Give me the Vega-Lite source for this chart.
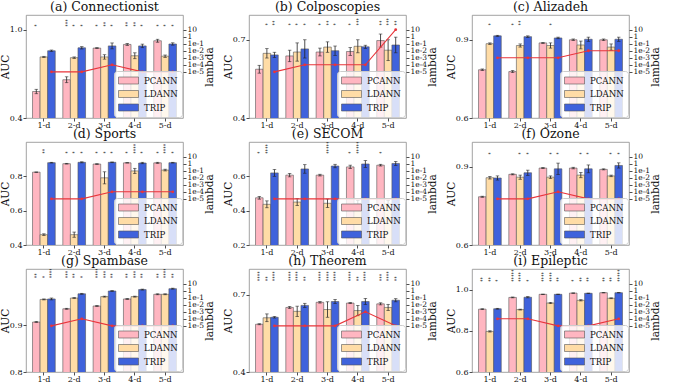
{
"$schema": "https://vega.github.io/schema/vega-lite/v6.json",
"padding": {"left": 0, "top": 0, "right": 0, "bottom": 0},
"columns": 3,
"spacing": {"row": -3, "column": 8},
"resolve": {"scale": {"color": "independent"}, "legend": {"color": "independent"}},
"datasets": {
"bars": [
{"p":"a","d":"1-d","m":"PCANN","v":0.58,"lo":0.565,"hi":0.595,"s":"*"},
{"p":"a","d":"1-d","m":"LDANN","v":0.815,"lo":0.811,"hi":0.819,"s":""},
{"p":"a","d":"1-d","m":"TRIP","v":0.857,"lo":0.852,"hi":0.862,"s":""},
{"p":"a","d":"2-d","m":"PCANN","v":0.66,"lo":0.64,"hi":0.68,"s":"***"},
{"p":"a","d":"2-d","m":"LDANN","v":0.81,"lo":0.805,"hi":0.815,"s":"*"},
{"p":"a","d":"2-d","m":"TRIP","v":0.877,"lo":0.869,"hi":0.885,"s":"*"},
{"p":"a","d":"3-d","m":"PCANN","v":0.875,"lo":0.872,"hi":0.878,"s":"*"},
{"p":"a","d":"3-d","m":"LDANN","v":0.815,"lo":0.8,"hi":0.83,"s":"**"},
{"p":"a","d":"3-d","m":"TRIP","v":0.89,"lo":0.87,"hi":0.91,"s":"*"},
{"p":"a","d":"4-d","m":"PCANN","v":0.9,"lo":0.893,"hi":0.907,"s":"**"},
{"p":"a","d":"4-d","m":"LDANN","v":0.823,"lo":0.803,"hi":0.843,"s":"**"},
{"p":"a","d":"4-d","m":"TRIP","v":0.89,"lo":0.878,"hi":0.902,"s":"*"},
{"p":"a","d":"5-d","m":"PCANN","v":0.925,"lo":0.915,"hi":0.935,"s":"*"},
{"p":"a","d":"5-d","m":"LDANN","v":0.82,"lo":0.812,"hi":0.828,"s":"*"},
{"p":"a","d":"5-d","m":"TRIP","v":0.903,"lo":0.895,"hi":0.911,"s":"*"},
{"p":"b","d":"1-d","m":"PCANN","v":0.587,"lo":0.572,"hi":0.602,"s":""},
{"p":"b","d":"1-d","m":"LDANN","v":0.648,"lo":0.63,"hi":0.666,"s":"*"},
{"p":"b","d":"1-d","m":"TRIP","v":0.642,"lo":0.632,"hi":0.652,"s":"**"},
{"p":"b","d":"2-d","m":"PCANN","v":0.638,"lo":0.616,"hi":0.66,"s":"*"},
{"p":"b","d":"2-d","m":"LDANN","v":0.653,"lo":0.618,"hi":0.688,"s":"*"},
{"p":"b","d":"2-d","m":"TRIP","v":0.665,"lo":0.63,"hi":0.7,"s":"*"},
{"p":"b","d":"3-d","m":"PCANN","v":0.653,"lo":0.638,"hi":0.668,"s":"*"},
{"p":"b","d":"3-d","m":"LDANN","v":0.672,"lo":0.652,"hi":0.692,"s":"**"},
{"p":"b","d":"3-d","m":"TRIP","v":0.658,"lo":0.64,"hi":0.676,"s":"*"},
{"p":"b","d":"4-d","m":"PCANN","v":0.655,"lo":0.64,"hi":0.67,"s":"*"},
{"p":"b","d":"4-d","m":"LDANN","v":0.675,"lo":0.65,"hi":0.7,"s":"***"},
{"p":"b","d":"4-d","m":"TRIP","v":0.673,"lo":0.667,"hi":0.679,"s":""},
{"p":"b","d":"5-d","m":"PCANN","v":0.697,"lo":0.672,"hi":0.722,"s":"**"},
{"p":"b","d":"5-d","m":"LDANN","v":0.66,"lo":0.62,"hi":0.7,"s":"***"},
{"p":"b","d":"5-d","m":"TRIP","v":0.68,"lo":0.65,"hi":0.71,"s":"**"},
{"p":"c","d":"1-d","m":"PCANN","v":0.785,"lo":0.782,"hi":0.788,"s":""},
{"p":"c","d":"1-d","m":"LDANN","v":0.885,"lo":0.882,"hi":0.888,"s":"*"},
{"p":"c","d":"1-d","m":"TRIP","v":0.915,"lo":0.913,"hi":0.917,"s":""},
{"p":"c","d":"2-d","m":"PCANN","v":0.778,"lo":0.774,"hi":0.782,"s":"*"},
{"p":"c","d":"2-d","m":"LDANN","v":0.878,"lo":0.872,"hi":0.884,"s":"**"},
{"p":"c","d":"2-d","m":"TRIP","v":0.912,"lo":0.909,"hi":0.915,"s":""},
{"p":"c","d":"3-d","m":"PCANN","v":0.888,"lo":0.886,"hi":0.89,"s":""},
{"p":"c","d":"3-d","m":"LDANN","v":0.878,"lo":0.868,"hi":0.888,"s":"*"},
{"p":"c","d":"3-d","m":"TRIP","v":0.907,"lo":0.904,"hi":0.91,"s":""},
{"p":"c","d":"4-d","m":"PCANN","v":0.9,"lo":0.897,"hi":0.903,"s":""},
{"p":"c","d":"4-d","m":"LDANN","v":0.88,"lo":0.865,"hi":0.895,"s":""},
{"p":"c","d":"4-d","m":"TRIP","v":0.902,"lo":0.894,"hi":0.91,"s":""},
{"p":"c","d":"5-d","m":"PCANN","v":0.9,"lo":0.897,"hi":0.903,"s":""},
{"p":"c","d":"5-d","m":"LDANN","v":0.872,"lo":0.86,"hi":0.884,"s":""},
{"p":"c","d":"5-d","m":"TRIP","v":0.902,"lo":0.894,"hi":0.91,"s":""},
{"p":"d","d":"1-d","m":"PCANN","v":0.823,"lo":0.822,"hi":0.824,"s":""},
{"p":"d","d":"1-d","m":"LDANN","v":0.46,"lo":0.455,"hi":0.465,"s":"**"},
{"p":"d","d":"1-d","m":"TRIP","v":0.878,"lo":0.876,"hi":0.88,"s":""},
{"p":"d","d":"2-d","m":"PCANN","v":0.872,"lo":0.87,"hi":0.874,"s":"*"},
{"p":"d","d":"2-d","m":"LDANN","v":0.46,"lo":0.445,"hi":0.475,"s":"*"},
{"p":"d","d":"2-d","m":"TRIP","v":0.88,"lo":0.877,"hi":0.883,"s":"*"},
{"p":"d","d":"3-d","m":"PCANN","v":0.87,"lo":0.868,"hi":0.872,"s":"*"},
{"p":"d","d":"3-d","m":"LDANN","v":0.79,"lo":0.755,"hi":0.825,"s":"*"},
{"p":"d","d":"3-d","m":"TRIP","v":0.88,"lo":0.878,"hi":0.882,"s":"*"},
{"p":"d","d":"4-d","m":"PCANN","v":0.877,"lo":0.876,"hi":0.878,"s":"*"},
{"p":"d","d":"4-d","m":"LDANN","v":0.83,"lo":0.815,"hi":0.845,"s":"****"},
{"p":"d","d":"4-d","m":"TRIP","v":0.876,"lo":0.872,"hi":0.88,"s":"*"},
{"p":"d","d":"5-d","m":"PCANN","v":0.877,"lo":0.874,"hi":0.88,"s":"*"},
{"p":"d","d":"5-d","m":"LDANN","v":0.835,"lo":0.83,"hi":0.84,"s":"****"},
{"p":"d","d":"5-d","m":"TRIP","v":0.878,"lo":0.876,"hi":0.88,"s":"*"},
{"p":"e","d":"1-d","m":"PCANN","v":0.475,"lo":0.467,"hi":0.483,"s":"*"},
{"p":"e","d":"1-d","m":"LDANN","v":0.437,"lo":0.417,"hi":0.457,"s":"****"},
{"p":"e","d":"1-d","m":"TRIP","v":0.62,"lo":0.6,"hi":0.64,"s":""},
{"p":"e","d":"2-d","m":"PCANN","v":0.607,"lo":0.597,"hi":0.617,"s":""},
{"p":"e","d":"2-d","m":"LDANN","v":0.45,"lo":0.43,"hi":0.47,"s":""},
{"p":"e","d":"2-d","m":"TRIP","v":0.643,"lo":0.618,"hi":0.668,"s":""},
{"p":"e","d":"3-d","m":"PCANN","v":0.607,"lo":0.602,"hi":0.612,"s":""},
{"p":"e","d":"3-d","m":"LDANN","v":0.443,"lo":0.418,"hi":0.468,"s":"*****"},
{"p":"e","d":"3-d","m":"TRIP","v":0.66,"lo":0.65,"hi":0.67,"s":""},
{"p":"e","d":"4-d","m":"PCANN","v":0.655,"lo":0.645,"hi":0.665,"s":"*"},
{"p":"e","d":"4-d","m":"LDANN","v":0.44,"lo":0.42,"hi":0.46,"s":"*****"},
{"p":"e","d":"4-d","m":"TRIP","v":0.672,"lo":0.652,"hi":0.692,"s":""},
{"p":"e","d":"5-d","m":"PCANN","v":0.665,"lo":0.66,"hi":0.67,"s":"*"},
{"p":"e","d":"5-d","m":"LDANN","v":0.44,"lo":0.42,"hi":0.46,"s":""},
{"p":"e","d":"5-d","m":"TRIP","v":0.675,"lo":0.663,"hi":0.687,"s":""},
{"p":"f","d":"1-d","m":"PCANN","v":0.785,"lo":0.783,"hi":0.787,"s":""},
{"p":"f","d":"1-d","m":"LDANN","v":0.858,"lo":0.853,"hi":0.863,"s":"*"},
{"p":"f","d":"1-d","m":"TRIP","v":0.857,"lo":0.849,"hi":0.865,"s":""},
{"p":"f","d":"2-d","m":"PCANN","v":0.871,"lo":0.869,"hi":0.873,"s":""},
{"p":"f","d":"2-d","m":"LDANN","v":0.86,"lo":0.852,"hi":0.868,"s":"*"},
{"p":"f","d":"2-d","m":"TRIP","v":0.877,"lo":0.867,"hi":0.887,"s":"*"},
{"p":"f","d":"3-d","m":"PCANN","v":0.895,"lo":0.893,"hi":0.897,"s":""},
{"p":"f","d":"3-d","m":"LDANN","v":0.86,"lo":0.855,"hi":0.865,"s":"*"},
{"p":"f","d":"3-d","m":"TRIP","v":0.892,"lo":0.87,"hi":0.914,"s":"*"},
{"p":"f","d":"4-d","m":"PCANN","v":0.895,"lo":0.892,"hi":0.898,"s":""},
{"p":"f","d":"4-d","m":"LDANN","v":0.868,"lo":0.858,"hi":0.878,"s":"*"},
{"p":"f","d":"4-d","m":"TRIP","v":0.892,"lo":0.877,"hi":0.907,"s":"*"},
{"p":"f","d":"5-d","m":"PCANN","v":0.89,"lo":0.888,"hi":0.892,"s":""},
{"p":"f","d":"5-d","m":"LDANN","v":0.865,"lo":0.862,"hi":0.868,"s":"*"},
{"p":"f","d":"5-d","m":"TRIP","v":0.905,"lo":0.895,"hi":0.915,"s":"*"},
{"p":"g","d":"1-d","m":"PCANN","v":0.9067,"lo":0.906,"hi":0.908,"s":"**"},
{"p":"g","d":"1-d","m":"LDANN","v":0.955,"lo":0.954,"hi":0.956,"s":"*"},
{"p":"g","d":"1-d","m":"TRIP","v":0.956,"lo":0.954,"hi":0.958,"s":"****"},
{"p":"g","d":"2-d","m":"PCANN","v":0.935,"lo":0.934,"hi":0.936,"s":"***"},
{"p":"g","d":"2-d","m":"LDANN","v":0.958,"lo":0.957,"hi":0.959,"s":"**"},
{"p":"g","d":"2-d","m":"TRIP","v":0.967,"lo":0.966,"hi":0.968,"s":"*"},
{"p":"g","d":"3-d","m":"PCANN","v":0.941,"lo":0.94,"hi":0.942,"s":"****"},
{"p":"g","d":"3-d","m":"LDANN","v":0.961,"lo":0.96,"hi":0.962,"s":"***"},
{"p":"g","d":"3-d","m":"TRIP","v":0.973,"lo":0.972,"hi":0.974,"s":"**"},
{"p":"g","d":"4-d","m":"PCANN","v":0.956,"lo":0.955,"hi":0.957,"s":"**"},
{"p":"g","d":"4-d","m":"LDANN","v":0.961,"lo":0.96,"hi":0.962,"s":"***"},
{"p":"g","d":"4-d","m":"TRIP","v":0.976,"lo":0.975,"hi":0.977,"s":"**"},
{"p":"g","d":"5-d","m":"PCANN","v":0.966,"lo":0.965,"hi":0.967,"s":"**"},
{"p":"g","d":"5-d","m":"LDANN","v":0.966,"lo":0.965,"hi":0.967,"s":"****"},
{"p":"g","d":"5-d","m":"TRIP","v":0.978,"lo":0.977,"hi":0.979,"s":"**"},
{"p":"h","d":"1-d","m":"PCANN","v":0.585,"lo":0.583,"hi":0.587,"s":"****"},
{"p":"h","d":"1-d","m":"LDANN","v":0.61,"lo":0.595,"hi":0.625,"s":"**"},
{"p":"h","d":"1-d","m":"TRIP","v":0.612,"lo":0.609,"hi":0.615,"s":"****"},
{"p":"h","d":"2-d","m":"PCANN","v":0.65,"lo":0.646,"hi":0.654,"s":"****"},
{"p":"h","d":"2-d","m":"LDANN","v":0.635,"lo":0.615,"hi":0.655,"s":"****"},
{"p":"h","d":"2-d","m":"TRIP","v":0.658,"lo":0.65,"hi":0.666,"s":"**"},
{"p":"h","d":"3-d","m":"PCANN","v":0.67,"lo":0.667,"hi":0.673,"s":"****"},
{"p":"h","d":"3-d","m":"LDANN","v":0.642,"lo":0.612,"hi":0.672,"s":"****"},
{"p":"h","d":"3-d","m":"TRIP","v":0.673,"lo":0.665,"hi":0.681,"s":"****"},
{"p":"h","d":"4-d","m":"PCANN","v":0.667,"lo":0.665,"hi":0.669,"s":"****"},
{"p":"h","d":"4-d","m":"LDANN","v":0.638,"lo":0.618,"hi":0.658,"s":"**"},
{"p":"h","d":"4-d","m":"TRIP","v":0.673,"lo":0.661,"hi":0.685,"s":"****"},
{"p":"h","d":"5-d","m":"PCANN","v":0.664,"lo":0.66,"hi":0.668,"s":"***"},
{"p":"h","d":"5-d","m":"LDANN","v":0.65,"lo":0.638,"hi":0.662,"s":"****"},
{"p":"h","d":"5-d","m":"TRIP","v":0.678,"lo":0.672,"hi":0.684,"s":"**"},
{"p":"i","d":"1-d","m":"PCANN","v":0.905,"lo":0.903,"hi":0.907,"s":"**"},
{"p":"i","d":"1-d","m":"LDANN","v":0.797,"lo":0.794,"hi":0.8,"s":"**"},
{"p":"i","d":"1-d","m":"TRIP","v":0.907,"lo":0.905,"hi":0.909,"s":"*"},
{"p":"i","d":"2-d","m":"PCANN","v":0.962,"lo":0.96,"hi":0.964,"s":"*****"},
{"p":"i","d":"2-d","m":"LDANN","v":0.903,"lo":0.901,"hi":0.905,"s":"****"},
{"p":"i","d":"2-d","m":"TRIP","v":0.963,"lo":0.96,"hi":0.966,"s":"*"},
{"p":"i","d":"3-d","m":"PCANN","v":0.977,"lo":0.976,"hi":0.978,"s":"****"},
{"p":"i","d":"3-d","m":"LDANN","v":0.935,"lo":0.932,"hi":0.938,"s":"****"},
{"p":"i","d":"3-d","m":"TRIP","v":0.977,"lo":0.976,"hi":0.978,"s":"**"},
{"p":"i","d":"4-d","m":"PCANN","v":0.983,"lo":0.982,"hi":0.984,"s":"*"},
{"p":"i","d":"4-d","m":"LDANN","v":0.948,"lo":0.945,"hi":0.951,"s":"**"},
{"p":"i","d":"4-d","m":"TRIP","v":0.982,"lo":0.981,"hi":0.983,"s":"**"},
{"p":"i","d":"5-d","m":"PCANN","v":0.985,"lo":0.984,"hi":0.986,"s":"**"},
{"p":"i","d":"5-d","m":"LDANN","v":0.958,"lo":0.956,"hi":0.96,"s":"**"},
{"p":"i","d":"5-d","m":"TRIP","v":0.985,"lo":0.984,"hi":0.986,"s":"*****"}
],
"lam": [
{"p":"a","d":"1-d","m":"TRIP","l":1e-5},{"p":"a","d":"2-d","m":"TRIP","l":1e-5},{"p":"a","d":"3-d","m":"TRIP","l":1e-4},{"p":"a","d":"4-d","m":"TRIP","l":1e-5},{"p":"a","d":"5-d","m":"TRIP","l":1e-5},
{"p":"b","d":"1-d","m":"TRIP","l":1e-5},{"p":"b","d":"2-d","m":"TRIP","l":1e-4},{"p":"b","d":"3-d","m":"TRIP","l":1e-4},{"p":"b","d":"4-d","m":"TRIP","l":1e-4},{"p":"b","d":"5-d","m":"TRIP","l":10},
{"p":"c","d":"1-d","m":"TRIP","l":1e-3},{"p":"c","d":"2-d","m":"TRIP","l":1e-3},{"p":"c","d":"3-d","m":"TRIP","l":1e-3},{"p":"c","d":"4-d","m":"TRIP","l":1e-2},{"p":"c","d":"5-d","m":"TRIP","l":1e-2},
{"p":"d","d":"1-d","m":"TRIP","l":1e-5},{"p":"d","d":"2-d","m":"TRIP","l":1e-5},{"p":"d","d":"3-d","m":"TRIP","l":1e-4},{"p":"d","d":"4-d","m":"TRIP","l":1e-4},{"p":"d","d":"5-d","m":"TRIP","l":1e-4},
{"p":"e","d":"1-d","m":"TRIP","l":1e-5},{"p":"e","d":"2-d","m":"TRIP","l":1e-5},{"p":"e","d":"3-d","m":"TRIP","l":1e-5},{"p":"e","d":"4-d","m":"TRIP","l":1e-5},{"p":"e","d":"5-d","m":"TRIP","l":1e-5},
{"p":"f","d":"1-d","m":"TRIP","l":1e-5},{"p":"f","d":"2-d","m":"TRIP","l":1e-5},{"p":"f","d":"3-d","m":"TRIP","l":1e-4},{"p":"f","d":"4-d","m":"TRIP","l":1e-5},{"p":"f","d":"5-d","m":"TRIP","l":1e-5},
{"p":"g","d":"1-d","m":"TRIP","l":1e-5},{"p":"g","d":"2-d","m":"TRIP","l":1e-4},{"p":"g","d":"3-d","m":"TRIP","l":1e-5},{"p":"g","d":"4-d","m":"TRIP","l":1e-5},{"p":"g","d":"5-d","m":"TRIP","l":1e-5},
{"p":"h","d":"1-d","m":"TRIP","l":1e-5},{"p":"h","d":"2-d","m":"TRIP","l":1e-5},{"p":"h","d":"3-d","m":"TRIP","l":1e-5},{"p":"h","d":"4-d","m":"TRIP","l":1e-3},{"p":"h","d":"5-d","m":"TRIP","l":1e-5},
{"p":"i","d":"1-d","m":"TRIP","l":1e-4},{"p":"i","d":"2-d","m":"TRIP","l":1e-4},{"p":"i","d":"3-d","m":"TRIP","l":1e-5},{"p":"i","d":"4-d","m":"TRIP","l":1e-5},{"p":"i","d":"5-d","m":"TRIP","l":1e-4}
]
},
"concat": [
{"title": "(a) Connectionist", "width": 157, "height": 103, "resolve": {"scale": {"y": "independent"}},
 "layer": [
  {"data": {"name": "bars"}, "transform": [{"filter": "datum.p == 'a'"}],
   "encoding": {"x": {"field": "d", "type": "nominal", "title": null, "scale": {"paddingInner": 0.25, "paddingOuter": 0.215}}, "xOffset": {"field": "m", "type": "nominal", "scale": {"domain": ["PCANN","LDANN","TRIP"]}}},
   "layer": [
    {"mark": {"type": "bar", "clip": true, "stroke": "#555", "strokeWidth": 0.6}, "encoding": {"y": {"field": "v", "type": "quantitative", "title": "AUC", "scale": {"domain": [0.4, 1.1], "nice": false, "zero": false}, "axis": {"values": [0.4,0.5,0.6,0.7,0.8,0.9,1.0], "format": ".1f"}}, "color": {"field": "m", "type": "nominal", "scale": {"domain": ["PCANN","LDANN","TRIP"], "range": ["#ffb6c1","#ffdca6","#3f62dc"]}, "legend": {"title": null}}}},
    {"mark": {"type": "rule", "color": "#222", "strokeWidth": 0.8}, "encoding": {"y": {"field": "lo", "type": "quantitative"}, "y2": {"field": "hi"}}},
    {"mark": {"type": "tick", "color": "#222", "size": 3.5, "thickness": 0.8}, "encoding": {"y": {"field": "lo", "type": "quantitative"}}},
    {"mark": {"type": "tick", "color": "#222", "size": 3.5, "thickness": 0.8}, "encoding": {"y": {"field": "hi", "type": "quantitative"}}},
    {"mark": {"type": "text", "clip": true, "angle": 270, "align": "left", "baseline": "middle", "fontSize": 5, "font": "DejaVu Sans", "color": "#222"}, "encoding": {"y": {"datum": 1.02}, "text": {"field": "s"}}}
   ]},
  {"data": {"name": "lam"}, "transform": [{"filter": "datum.p == 'a'"}],
   "mark": {"type": "line", "color": "#e8343a", "strokeWidth": 1.1, "point": {"filled": true, "size": 8, "color": "#e8343a"}},
   "encoding": {"x": {"field": "d", "type": "nominal", "title": null}, "xOffset": {"field": "m", "type": "nominal"}, "y": {"field": "l", "type": "quantitative", "title": "lambda", "scale": {"type": "log", "domain": [2.7e-12, 1230]}, "axis": {"orient": "right", "values": [10,1,0.1,0.01,0.001,0.0001,0.00001], "labelExpr": "datum.value >= 5 ? '10' : datum.value >= 0.5 ? '1' : '1e-' + round(-log(datum.value)/LN10)"}}}}
 ]},
{"title": "(b) Colposcopies", "width": 157, "height": 103, "resolve": {"scale": {"y": "independent"}},
 "layer": [
  {"data": {"name": "bars"}, "transform": [{"filter": "datum.p == 'b'"}],
   "encoding": {"x": {"field": "d", "type": "nominal", "title": null, "scale": {"paddingInner": 0.25, "paddingOuter": 0.215}}, "xOffset": {"field": "m", "type": "nominal", "scale": {"domain": ["PCANN","LDANN","TRIP"]}}},
   "layer": [
    {"mark": {"type": "bar", "clip": true, "stroke": "#555", "strokeWidth": 0.6}, "encoding": {"y": {"field": "v", "type": "quantitative", "title": "AUC", "scale": {"domain": [0.4, 0.795], "nice": false, "zero": false}, "axis": {"values": [0.4,0.5,0.6,0.7], "format": ".1f"}}, "color": {"field": "m", "type": "nominal", "scale": {"domain": ["PCANN","LDANN","TRIP"], "range": ["#ffb6c1","#ffdca6","#3f62dc"]}, "legend": {"title": null}}}},
    {"mark": {"type": "rule", "color": "#222", "strokeWidth": 0.8}, "encoding": {"y": {"field": "lo", "type": "quantitative"}, "y2": {"field": "hi"}}},
    {"mark": {"type": "tick", "color": "#222", "size": 3.5, "thickness": 0.8}, "encoding": {"y": {"field": "lo", "type": "quantitative"}}},
    {"mark": {"type": "tick", "color": "#222", "size": 3.5, "thickness": 0.8}, "encoding": {"y": {"field": "hi", "type": "quantitative"}}},
    {"mark": {"type": "text", "clip": true, "angle": 270, "align": "left", "baseline": "middle", "fontSize": 5, "font": "DejaVu Sans", "color": "#222"}, "encoding": {"y": {"datum": 0.755}, "text": {"field": "s"}}}
   ]},
  {"data": {"name": "lam"}, "transform": [{"filter": "datum.p == 'b'"}],
   "mark": {"type": "line", "color": "#e8343a", "strokeWidth": 1.1, "point": {"filled": true, "size": 8, "color": "#e8343a"}},
   "encoding": {"x": {"field": "d", "type": "nominal", "title": null}, "xOffset": {"field": "m", "type": "nominal"}, "y": {"field": "l", "type": "quantitative", "title": "lambda", "scale": {"type": "log", "domain": [2.7e-12, 1230]}, "axis": {"orient": "right", "values": [10,1,0.1,0.01,0.001,0.0001,0.00001], "labelExpr": "datum.value >= 5 ? '10' : datum.value >= 0.5 ? '1' : '1e-' + round(-log(datum.value)/LN10)"}}}}
 ]},
{"title": "(c) Alizadeh", "width": 157, "height": 103, "resolve": {"scale": {"y": "independent"}},
 "layer": [
  {"data": {"name": "bars"}, "transform": [{"filter": "datum.p == 'c'"}],
   "encoding": {"x": {"field": "d", "type": "nominal", "title": null, "scale": {"paddingInner": 0.25, "paddingOuter": 0.215}}, "xOffset": {"field": "m", "type": "nominal", "scale": {"domain": ["PCANN","LDANN","TRIP"]}}},
   "layer": [
    {"mark": {"type": "bar", "clip": true, "stroke": "#555", "strokeWidth": 0.6}, "encoding": {"y": {"field": "v", "type": "quantitative", "title": "AUC", "scale": {"domain": [0.6, 0.995], "nice": false, "zero": false}, "axis": {"values": [0.6,0.7,0.8,0.9], "format": ".1f"}}, "color": {"field": "m", "type": "nominal", "scale": {"domain": ["PCANN","LDANN","TRIP"], "range": ["#ffb6c1","#ffdca6","#3f62dc"]}, "legend": {"title": null}}}},
    {"mark": {"type": "rule", "color": "#222", "strokeWidth": 0.8}, "encoding": {"y": {"field": "lo", "type": "quantitative"}, "y2": {"field": "hi"}}},
    {"mark": {"type": "tick", "color": "#222", "size": 3.5, "thickness": 0.8}, "encoding": {"y": {"field": "lo", "type": "quantitative"}}},
    {"mark": {"type": "tick", "color": "#222", "size": 3.5, "thickness": 0.8}, "encoding": {"y": {"field": "hi", "type": "quantitative"}}},
    {"mark": {"type": "text", "clip": true, "angle": 270, "align": "left", "baseline": "middle", "fontSize": 5, "font": "DejaVu Sans", "color": "#222"}, "encoding": {"y": {"datum": 0.955}, "text": {"field": "s"}}}
   ]},
  {"data": {"name": "lam"}, "transform": [{"filter": "datum.p == 'c'"}],
   "mark": {"type": "line", "color": "#e8343a", "strokeWidth": 1.1, "point": {"filled": true, "size": 8, "color": "#e8343a"}},
   "encoding": {"x": {"field": "d", "type": "nominal", "title": null}, "xOffset": {"field": "m", "type": "nominal"}, "y": {"field": "l", "type": "quantitative", "title": "lambda", "scale": {"type": "log", "domain": [2.7e-12, 1230]}, "axis": {"orient": "right", "values": [10,1,0.1,0.01,0.001,0.0001,0.00001], "labelExpr": "datum.value >= 5 ? '10' : datum.value >= 0.5 ? '1' : '1e-' + round(-log(datum.value)/LN10)"}}}}
 ]},
{"title": "(d) Sports", "width": 157, "height": 103, "resolve": {"scale": {"y": "independent"}},
 "layer": [
  {"data": {"name": "bars"}, "transform": [{"filter": "datum.p == 'd'"}],
   "encoding": {"x": {"field": "d", "type": "nominal", "title": null, "scale": {"paddingInner": 0.25, "paddingOuter": 0.215}}, "xOffset": {"field": "m", "type": "nominal", "scale": {"domain": ["PCANN","LDANN","TRIP"]}}},
   "layer": [
    {"mark": {"type": "bar", "clip": true, "stroke": "#555", "strokeWidth": 0.6}, "encoding": {"y": {"field": "v", "type": "quantitative", "title": "AUC", "scale": {"domain": [0.4, 0.998], "nice": false, "zero": false}, "axis": {"values": [0.4,0.5,0.6,0.7,0.8,0.9], "format": ".1f"}}, "color": {"field": "m", "type": "nominal", "scale": {"domain": ["PCANN","LDANN","TRIP"], "range": ["#ffb6c1","#ffdca6","#3f62dc"]}, "legend": {"title": null}}}},
    {"mark": {"type": "rule", "color": "#222", "strokeWidth": 0.8}, "encoding": {"y": {"field": "lo", "type": "quantitative"}, "y2": {"field": "hi"}}},
    {"mark": {"type": "tick", "color": "#222", "size": 3.5, "thickness": 0.8}, "encoding": {"y": {"field": "lo", "type": "quantitative"}}},
    {"mark": {"type": "tick", "color": "#222", "size": 3.5, "thickness": 0.8}, "encoding": {"y": {"field": "hi", "type": "quantitative"}}},
    {"mark": {"type": "text", "clip": true, "angle": 270, "align": "left", "baseline": "middle", "fontSize": 5, "font": "DejaVu Sans", "color": "#222"}, "encoding": {"y": {"datum": 0.93}, "text": {"field": "s"}}}
   ]},
  {"data": {"name": "lam"}, "transform": [{"filter": "datum.p == 'd'"}],
   "mark": {"type": "line", "color": "#e8343a", "strokeWidth": 1.1, "point": {"filled": true, "size": 8, "color": "#e8343a"}},
   "encoding": {"x": {"field": "d", "type": "nominal", "title": null}, "xOffset": {"field": "m", "type": "nominal"}, "y": {"field": "l", "type": "quantitative", "title": "lambda", "scale": {"type": "log", "domain": [2.7e-12, 1230]}, "axis": {"orient": "right", "values": [10,1,0.1,0.01,0.001,0.0001,0.00001], "labelExpr": "datum.value >= 5 ? '10' : datum.value >= 0.5 ? '1' : '1e-' + round(-log(datum.value)/LN10)"}}}}
 ]},
{"title": "(e) SECOM", "width": 157, "height": 103, "resolve": {"scale": {"y": "independent"}},
 "layer": [
  {"data": {"name": "bars"}, "transform": [{"filter": "datum.p == 'e'"}],
   "encoding": {"x": {"field": "d", "type": "nominal", "title": null, "scale": {"paddingInner": 0.25, "paddingOuter": 0.215}}, "xOffset": {"field": "m", "type": "nominal", "scale": {"domain": ["PCANN","LDANN","TRIP"]}}},
   "layer": [
    {"mark": {"type": "bar", "clip": true, "stroke": "#555", "strokeWidth": 0.6}, "encoding": {"y": {"field": "v", "type": "quantitative", "title": "AUC", "scale": {"domain": [0.2, 0.8], "nice": false, "zero": false}, "axis": {"values": [0.2,0.3,0.4,0.5,0.6,0.7], "format": ".1f"}}, "color": {"field": "m", "type": "nominal", "scale": {"domain": ["PCANN","LDANN","TRIP"], "range": ["#ffb6c1","#ffdca6","#3f62dc"]}, "legend": {"title": null}}}},
    {"mark": {"type": "rule", "color": "#222", "strokeWidth": 0.8}, "encoding": {"y": {"field": "lo", "type": "quantitative"}, "y2": {"field": "hi"}}},
    {"mark": {"type": "tick", "color": "#222", "size": 3.5, "thickness": 0.8}, "encoding": {"y": {"field": "lo", "type": "quantitative"}}},
    {"mark": {"type": "tick", "color": "#222", "size": 3.5, "thickness": 0.8}, "encoding": {"y": {"field": "hi", "type": "quantitative"}}},
    {"mark": {"type": "text", "clip": true, "angle": 270, "align": "left", "baseline": "middle", "fontSize": 5, "font": "DejaVu Sans", "color": "#222"}, "encoding": {"y": {"datum": 0.73}, "text": {"field": "s"}}}
   ]},
  {"data": {"name": "lam"}, "transform": [{"filter": "datum.p == 'e'"}],
   "mark": {"type": "line", "color": "#e8343a", "strokeWidth": 1.1, "point": {"filled": true, "size": 8, "color": "#e8343a"}},
   "encoding": {"x": {"field": "d", "type": "nominal", "title": null}, "xOffset": {"field": "m", "type": "nominal"}, "y": {"field": "l", "type": "quantitative", "title": "lambda", "scale": {"type": "log", "domain": [2.7e-12, 1230]}, "axis": {"orient": "right", "values": [10,1,0.1,0.01,0.001,0.0001,0.00001], "labelExpr": "datum.value >= 5 ? '10' : datum.value >= 0.5 ? '1' : '1e-' + round(-log(datum.value)/LN10)"}}}}
 ]},
{"title": "(f) Ozone", "width": 157, "height": 103, "resolve": {"scale": {"y": "independent"}},
 "layer": [
  {"data": {"name": "bars"}, "transform": [{"filter": "datum.p == 'f'"}],
   "encoding": {"x": {"field": "d", "type": "nominal", "title": null, "scale": {"paddingInner": 0.25, "paddingOuter": 0.215}}, "xOffset": {"field": "m", "type": "nominal", "scale": {"domain": ["PCANN","LDANN","TRIP"]}}},
   "layer": [
    {"mark": {"type": "bar", "clip": true, "stroke": "#555", "strokeWidth": 0.6}, "encoding": {"y": {"field": "v", "type": "quantitative", "title": "AUC", "scale": {"domain": [0.6, 0.995], "nice": false, "zero": false}, "axis": {"values": [0.6,0.7,0.8,0.9], "format": ".1f"}}, "color": {"field": "m", "type": "nominal", "scale": {"domain": ["PCANN","LDANN","TRIP"], "range": ["#ffb6c1","#ffdca6","#3f62dc"]}, "legend": {"title": null}}}},
    {"mark": {"type": "rule", "color": "#222", "strokeWidth": 0.8}, "encoding": {"y": {"field": "lo", "type": "quantitative"}, "y2": {"field": "hi"}}},
    {"mark": {"type": "tick", "color": "#222", "size": 3.5, "thickness": 0.8}, "encoding": {"y": {"field": "lo", "type": "quantitative"}}},
    {"mark": {"type": "tick", "color": "#222", "size": 3.5, "thickness": 0.8}, "encoding": {"y": {"field": "hi", "type": "quantitative"}}},
    {"mark": {"type": "text", "clip": true, "angle": 270, "align": "left", "baseline": "middle", "fontSize": 5, "font": "DejaVu Sans", "color": "#222"}, "encoding": {"y": {"datum": 0.946}, "text": {"field": "s"}}}
   ]},
  {"data": {"name": "lam"}, "transform": [{"filter": "datum.p == 'f'"}],
   "mark": {"type": "line", "color": "#e8343a", "strokeWidth": 1.1, "point": {"filled": true, "size": 8, "color": "#e8343a"}},
   "encoding": {"x": {"field": "d", "type": "nominal", "title": null}, "xOffset": {"field": "m", "type": "nominal"}, "y": {"field": "l", "type": "quantitative", "title": "lambda", "scale": {"type": "log", "domain": [2.7e-12, 1230]}, "axis": {"orient": "right", "values": [10,1,0.1,0.01,0.001,0.0001,0.00001], "labelExpr": "datum.value >= 5 ? '10' : datum.value >= 0.5 ? '1' : '1e-' + round(-log(datum.value)/LN10)"}}}}
 ]},
{"title": "(g) Spambase", "width": 157, "height": 103, "resolve": {"scale": {"y": "independent"}},
 "layer": [
  {"data": {"name": "bars"}, "transform": [{"filter": "datum.p == 'g'"}],
   "encoding": {"x": {"field": "d", "type": "nominal", "title": null, "scale": {"paddingInner": 0.25, "paddingOuter": 0.215}}, "xOffset": {"field": "m", "type": "nominal", "scale": {"domain": ["PCANN","LDANN","TRIP"]}}},
   "layer": [
    {"mark": {"type": "bar", "clip": true, "stroke": "#555", "strokeWidth": 0.6}, "encoding": {"y": {"field": "v", "type": "quantitative", "title": "AUC", "scale": {"domain": [0.8, 1.02], "nice": false, "zero": false}, "axis": {"values": [0.8,0.9], "format": ".1f"}}, "color": {"field": "m", "type": "nominal", "scale": {"domain": ["PCANN","LDANN","TRIP"], "range": ["#ffb6c1","#ffdca6","#3f62dc"]}, "legend": {"title": null}}}},
    {"mark": {"type": "rule", "color": "#222", "strokeWidth": 0.8}, "encoding": {"y": {"field": "lo", "type": "quantitative"}, "y2": {"field": "hi"}}},
    {"mark": {"type": "tick", "color": "#222", "size": 3.5, "thickness": 0.8}, "encoding": {"y": {"field": "lo", "type": "quantitative"}}},
    {"mark": {"type": "tick", "color": "#222", "size": 3.5, "thickness": 0.8}, "encoding": {"y": {"field": "hi", "type": "quantitative"}}},
    {"mark": {"type": "text", "clip": true, "angle": 270, "align": "left", "baseline": "middle", "fontSize": 5, "font": "DejaVu Sans", "color": "#222"}, "encoding": {"y": {"datum": 1.0}, "text": {"field": "s"}}}
   ]},
  {"data": {"name": "lam"}, "transform": [{"filter": "datum.p == 'g'"}],
   "mark": {"type": "line", "color": "#e8343a", "strokeWidth": 1.1, "point": {"filled": true, "size": 8, "color": "#e8343a"}},
   "encoding": {"x": {"field": "d", "type": "nominal", "title": null}, "xOffset": {"field": "m", "type": "nominal"}, "y": {"field": "l", "type": "quantitative", "title": "lambda", "scale": {"type": "log", "domain": [2.7e-12, 1230]}, "axis": {"orient": "right", "values": [10,1,0.1,0.01,0.001,0.0001,0.00001], "labelExpr": "datum.value >= 5 ? '10' : datum.value >= 0.5 ? '1' : '1e-' + round(-log(datum.value)/LN10)"}}}}
 ]},
{"title": "(h) Theorem", "width": 157, "height": 103, "resolve": {"scale": {"y": "independent"}},
 "layer": [
  {"data": {"name": "bars"}, "transform": [{"filter": "datum.p == 'h'"}],
   "encoding": {"x": {"field": "d", "type": "nominal", "title": null, "scale": {"paddingInner": 0.25, "paddingOuter": 0.215}}, "xOffset": {"field": "m", "type": "nominal", "scale": {"domain": ["PCANN","LDANN","TRIP"]}}},
   "layer": [
    {"mark": {"type": "bar", "clip": true, "stroke": "#555", "strokeWidth": 0.6}, "encoding": {"y": {"field": "v", "type": "quantitative", "title": "AUC", "scale": {"domain": [0.4, 0.799], "nice": false, "zero": false}, "axis": {"values": [0.4,0.5,0.6,0.7], "format": ".1f"}}, "color": {"field": "m", "type": "nominal", "scale": {"domain": ["PCANN","LDANN","TRIP"], "range": ["#ffb6c1","#ffdca6","#3f62dc"]}, "legend": {"title": null}}}},
    {"mark": {"type": "rule", "color": "#222", "strokeWidth": 0.8}, "encoding": {"y": {"field": "lo", "type": "quantitative"}, "y2": {"field": "hi"}}},
    {"mark": {"type": "tick", "color": "#222", "size": 3.5, "thickness": 0.8}, "encoding": {"y": {"field": "lo", "type": "quantitative"}}},
    {"mark": {"type": "tick", "color": "#222", "size": 3.5, "thickness": 0.8}, "encoding": {"y": {"field": "hi", "type": "quantitative"}}},
    {"mark": {"type": "text", "clip": true, "angle": 270, "align": "left", "baseline": "middle", "fontSize": 5, "font": "DejaVu Sans", "color": "#222"}, "encoding": {"y": {"datum": 0.752}, "text": {"field": "s"}}}
   ]},
  {"data": {"name": "lam"}, "transform": [{"filter": "datum.p == 'h'"}],
   "mark": {"type": "line", "color": "#e8343a", "strokeWidth": 1.1, "point": {"filled": true, "size": 8, "color": "#e8343a"}},
   "encoding": {"x": {"field": "d", "type": "nominal", "title": null}, "xOffset": {"field": "m", "type": "nominal"}, "y": {"field": "l", "type": "quantitative", "title": "lambda", "scale": {"type": "log", "domain": [2.7e-12, 1230]}, "axis": {"orient": "right", "values": [10,1,0.1,0.01,0.001,0.0001,0.00001], "labelExpr": "datum.value >= 5 ? '10' : datum.value >= 0.5 ? '1' : '1e-' + round(-log(datum.value)/LN10)"}}}}
 ]},
{"title": "(i) Epileptic", "width": 157, "height": 103, "resolve": {"scale": {"y": "independent"}},
 "layer": [
  {"data": {"name": "bars"}, "transform": [{"filter": "datum.p == 'i'"}],
   "encoding": {"x": {"field": "d", "type": "nominal", "title": null, "scale": {"paddingInner": 0.25, "paddingOuter": 0.215}}, "xOffset": {"field": "m", "type": "nominal", "scale": {"domain": ["PCANN","LDANN","TRIP"]}}},
   "layer": [
    {"mark": {"type": "bar", "clip": true, "stroke": "#555", "strokeWidth": 0.6}, "encoding": {"y": {"field": "v", "type": "quantitative", "title": "AUC", "scale": {"domain": [0.6, 1.1], "nice": false, "zero": false}, "axis": {"values": [0.6,0.7,0.8,0.9,1.0], "format": ".1f"}}, "color": {"field": "m", "type": "nominal", "scale": {"domain": ["PCANN","LDANN","TRIP"], "range": ["#ffb6c1","#ffdca6","#3f62dc"]}, "legend": {"title": null}}}},
    {"mark": {"type": "rule", "color": "#222", "strokeWidth": 0.8}, "encoding": {"y": {"field": "lo", "type": "quantitative"}, "y2": {"field": "hi"}}},
    {"mark": {"type": "tick", "color": "#222", "size": 3.5, "thickness": 0.8}, "encoding": {"y": {"field": "lo", "type": "quantitative"}}},
    {"mark": {"type": "tick", "color": "#222", "size": 3.5, "thickness": 0.8}, "encoding": {"y": {"field": "hi", "type": "quantitative"}}},
    {"mark": {"type": "text", "clip": true, "angle": 270, "align": "left", "baseline": "middle", "fontSize": 5, "font": "DejaVu Sans", "color": "#222"}, "encoding": {"y": {"datum": 1.037}, "text": {"field": "s"}}}
   ]},
  {"data": {"name": "lam"}, "transform": [{"filter": "datum.p == 'i'"}],
   "mark": {"type": "line", "color": "#e8343a", "strokeWidth": 1.1, "point": {"filled": true, "size": 8, "color": "#e8343a"}},
   "encoding": {"x": {"field": "d", "type": "nominal", "title": null}, "xOffset": {"field": "m", "type": "nominal"}, "y": {"field": "l", "type": "quantitative", "title": "lambda", "scale": {"type": "log", "domain": [2.7e-12, 1230]}, "axis": {"orient": "right", "values": [10,1,0.1,0.01,0.001,0.0001,0.00001], "labelExpr": "datum.value >= 5 ? '10' : datum.value >= 0.5 ? '1' : '1e-' + round(-log(datum.value)/LN10)"}}}}
 ]}
],
"config": {
 "font": "DejaVu Serif",
 "view": {"stroke": "#8c8c8c", "strokeWidth": 0.8},
 "axis": {"labelFont": "DejaVu Serif", "titleFont": "DejaVu Serif", "labelFontSize": 8, "titleFontSize": 10.5, "titleFontWeight": "normal", "grid": false, "domain": false, "ticks": true, "tickSize": 3, "tickColor": "#222", "tickWidth": 0.8, "labelColor": "#111", "titleColor": "#111", "labelPadding": 1, "titlePadding": 0.5},
 "axisX": {"labelAngle": 0, "labelPadding": 0},
 "axisLeft": {"titleBaseline": "alphabetic"},
 "axisRight": {"labelFontSize": 7.5, "labelOverlap": false, "titleAngle": 270, "titleBaseline": "top"},
 "title": {"font": "DejaVu Serif", "fontSize": 12.5, "fontWeight": "normal", "color": "#111", "offset": 2, "anchor": "middle", "frame": "group"},
 "legend": {"orient": "bottom-right", "offset": 1, "labelFont": "DejaVu Serif", "labelFontSize": 8.6, "labelColor": "#111", "symbolType": "M-1,-0.7H3V0.7H-1Z", "symbolSize": 100, "symbolStrokeWidth": 0.6, "symbolStrokeColor": "#555", "symbolOpacity": 1, "fillColor": "rgba(255,255,255,0.8)", "strokeColor": "#cccccc", "cornerRadius": 3, "padding": 4, "rowPadding": 2.5, "labelOffset": 15}
}
}
